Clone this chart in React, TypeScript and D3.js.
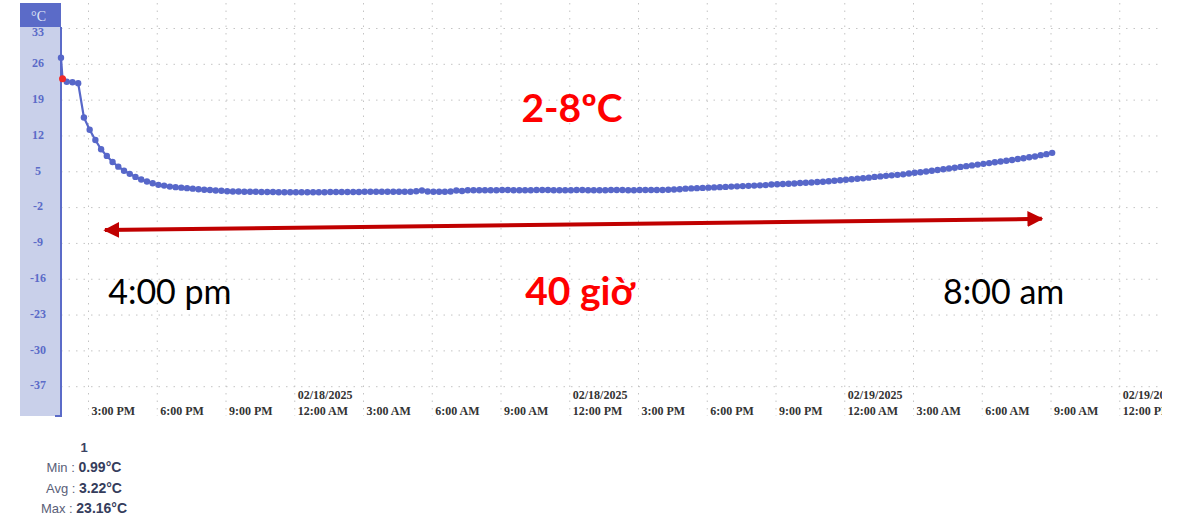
import React from "react";
import * as d3 from "d3";

// ---- data ----
const START = new Date(2025, 1, 17, 13, 48);
const END = new Date(2025, 1, 19, 13, 48);
const INTERVAL_MIN = 15;

const temps: number[] = [
  27.3, 22.6, 22.5, 22.3, 15.6, 13.2, 11.2, 9.4, 8.1, 6.9,
  6.0, 5.2, 4.6, 4.0, 3.5, 3.1, 2.75, 2.45, 2.3, 2.1,
  2.0, 1.9, 1.8, 1.7, 1.6, 1.5, 1.45, 1.35, 1.3, 1.2,
  1.15, 1.15, 1.1, 1.1, 1.1, 1.05, 1.05, 1.05, 1.0, 1.0,
  1.0, 0.99, 0.99, 1.0, 1.0, 1.0, 1.0, 1.05, 1.05, 1.05,
  1.05, 1.05, 1.05, 1.1, 1.1, 1.1, 1.1, 1.1, 1.1, 1.1,
  1.1, 1.1, 1.2, 1.35, 1.15, 1.1, 1.1, 1.1, 1.15, 1.35,
  1.25, 1.4, 1.4, 1.4, 1.4, 1.4, 1.4, 1.45, 1.45, 1.4,
  1.4, 1.4, 1.4, 1.45, 1.45, 1.45, 1.4, 1.4, 1.4, 1.4,
  1.45, 1.45, 1.4, 1.4, 1.4, 1.4, 1.45, 1.45, 1.45, 1.4,
  1.4, 1.45, 1.45, 1.45, 1.45, 1.45, 1.5, 1.55, 1.6, 1.7,
  1.75, 1.8, 1.85, 1.9, 1.95, 2.0, 2.05, 2.1, 2.15, 2.2,
  2.25, 2.3, 2.35, 2.4, 2.5, 2.55, 2.6, 2.65, 2.7, 2.8,
  2.85, 2.9, 3.0, 3.05, 3.15, 3.25, 3.35, 3.45, 3.55, 3.65,
  3.75, 3.85, 4.0, 4.1, 4.2, 4.3, 4.4, 4.5, 4.65, 4.8,
  4.9, 5.05, 5.2, 5.35, 5.5, 5.65, 5.8, 5.95, 6.1, 6.25,
  6.4, 6.55, 6.7, 6.85, 7.0, 7.15, 7.3, 7.5, 7.65, 7.85,
  8.0, 8.25, 8.45, 8.7,
];

const maxMarker = { minutesAfterStart: 4, value: 23.16 };

const yTicks = [33, 26, 19, 12, 5, -2, -9, -16, -23, -30, -37];
const yUnit = "°C";

const sensorName = "1";
const statLabels = ["Min", "Avg", "Max"];
const statValues = ["0.99°C", "3.22°C", "23.16°C"];

const arrowStart = { t: new Date(2025, 1, 17, 15, 43), v: -6.4 };
const arrowEnd = { t: new Date(2025, 1, 19, 8, 36), v: -4.2 };
const annotations = [
  { text: "2-8ºC", t: new Date(2025, 1, 18, 12, 6), v: 14.7, color: "#ff0000", bold: true },
  { text: "40 giờ", t: new Date(2025, 1, 18, 12, 27), v: -21, color: "#ff0000", bold: true },
  { text: "4:00 pm", t: new Date(2025, 1, 17, 18, 33), v: -20.8, color: "#000000", bold: false },
  { text: "8:00 am", t: new Date(2025, 1, 19, 6, 56), v: -20.8, color: "#000000", bold: false },
];

// ---- layout ----
const W = 1185;
const H = 520;
const plotLeft = 61;
const plotRight = 1161;
const yTop = 28.5;
const yBottom = 386.7;
const bandLeft = 20;
const bandTop = 3;
const bandBottom = 416;
const headerBottom = 27;

const BLUE = "#5b6bc8";
const LINE = "#5767c9";

export default function App() {
  const x = d3.scaleTime().domain([START, END]).range([plotLeft, plotRight]);
  const y = d3.scaleLinear().domain([-37, 33]).range([yBottom, yTop]);

  const pts = temps.map((v, i) => ({
    t: new Date(START.getTime() + i * INTERVAL_MIN * 60000),
    v,
  }));
  const marker = {
    t: new Date(START.getTime() + maxMarker.minutesAfterStart * 60000),
    v: maxMarker.value,
  };
  const linePts = [pts[0], marker, ...pts.slice(1)];
  const line = d3
    .line<{ t: Date; v: number }>()
    .x((d) => x(d.t))
    .y((d) => y(d.v));

  const xTicks = d3.timeHour.every(3)!.range(START, END);
  const fmtDate = d3.timeFormat("%m/%d/%Y");
  const fmtTime = d3.timeFormat("%-I:%M %p");

  const grid = "#c4c4c4";

  return (
    <svg
      width={W}
      height={H}
      style={{ position: "absolute", left: 0, top: 0 }}
      xmlns="http://www.w3.org/2000/svg"
    >
      <defs>
        <clipPath id="clipR">
          <rect x={0} y={0} width={1162} height={H} />
        </clipPath>
        <marker id="ah" viewBox="0 0 10 10" refX="9" refY="5" markerWidth="4" markerHeight="4" orient="auto-start-reverse" markerUnits="strokeWidth">
          <path d="M0,0 L10,5 L0,10 z" fill="#c00000" />
        </marker>
      </defs>
      <rect x={0} y={0} width={W} height={H} fill="#ffffff" />

      {/* y band */}
      <rect x={bandLeft} y={bandTop} width={plotLeft - bandLeft} height={bandBottom - bandTop} fill="#c9d0ea" />
      <rect x={bandLeft} y={bandTop} width={plotLeft - bandLeft} height={headerBottom - bandTop} fill={BLUE} />
      <text x={38.5} y={17.5} textAnchor="middle" dominantBaseline="middle" fontFamily="Liberation Serif, serif" fontSize={14} fill="#dfe4f6">
        {yUnit}
      </text>

      {/* grid */}
      <g clipPath="url(#clipR)">
        {yTicks.map((v) => (
          <line key={"h" + v} x1={plotLeft} x2={plotRight + 1} y1={y(v)} y2={y(v)} stroke={grid} strokeWidth={1} strokeDasharray="1.5,6" />
        ))}
        {xTicks.map((t) => (
          <line key={"v" + t.getTime()} x1={x(t)} x2={x(t)} y1={bandTop} y2={bandBottom} stroke={grid} strokeWidth={1} strokeDasharray="1.5,6" />
        ))}
      </g>

      {/* y tick labels */}
      {yTicks.map((v) => (
        <text key={"yl" + v} x={38} y={Math.max(y(v), 33)} textAnchor="middle" dominantBaseline="middle" fontFamily="Liberation Serif, serif" fontWeight="bold" fontSize={12} fill={BLUE}>
          {v}
        </text>
      ))}

      {/* y axis line */}
      <path d={`M${plotLeft},${headerBottom} V${bandBottom} H${plotLeft - 6}`} fill="none" stroke={BLUE} strokeWidth={2} />

      {/* x tick labels */}
      <g clipPath="url(#clipR)" fontFamily="Liberation Serif, serif" fontWeight="bold" fontSize={12} fill="#333333">
        {xTicks.map((t) => {
          const h = t.getHours();
          const showDate = h === 0 || h === 12;
          return (
            <g key={"xl" + t.getTime()}>
              {showDate && (
                <text x={x(t) + 3} y={399}>
                  {fmtDate(t)}
                </text>
              )}
              <text x={x(t) + 3} y={415}>
                {fmtTime(t)}
              </text>
            </g>
          );
        })}
      </g>

      {/* series */}
      <path d={line(linePts) || ""} fill="none" stroke={LINE} strokeWidth={2.2} />
      {pts.map((p, i) => (
        <circle key={"p" + i} cx={x(p.t)} cy={y(p.v)} r={3.2} fill={LINE} />
      ))}
      <circle cx={x(marker.t)} cy={y(marker.v)} r={3.5} fill="#ee2b2b" />

      {/* annotations */}
      <line
        x1={x(arrowStart.t)}
        y1={y(arrowStart.v)}
        x2={x(arrowEnd.t)}
        y2={y(arrowEnd.v)}
        stroke="#c00000"
        strokeWidth={4}
        markerStart="url(#ah)"
        markerEnd="url(#ah)"
      />
      {annotations.map((a) => (
        <text
          key={a.text}
          x={x(a.t)}
          y={y(a.v)}
          textAnchor="middle"
          fontFamily="Lato, 'Open Sans', sans-serif"
          fontWeight={a.bold ? 700 : 400}
          fontSize={a.bold ? 39 : 34}
          fill={a.color}
        >
          {a.text}
        </text>
      ))}

      {/* stats */}
      <text x={84} y={452} textAnchor="middle" fontFamily="Liberation Sans, Arial, sans-serif" fontWeight="bold" fontSize={13} fill="#3a4263">
        {sensorName}
      </text>
      {statLabels.map((lab, i) => (
        <text key={lab} x={84} y={472 + i * 20.5} textAnchor="middle" fontFamily="Liberation Sans, Arial, sans-serif">
          <tspan fontSize={13} fill="#5a6078">{lab + " : "}</tspan>
          <tspan fontSize={14} fontWeight="bold" fill="#353d5c">{statValues[i]}</tspan>
        </text>
      ))}
    </svg>
  );
}
